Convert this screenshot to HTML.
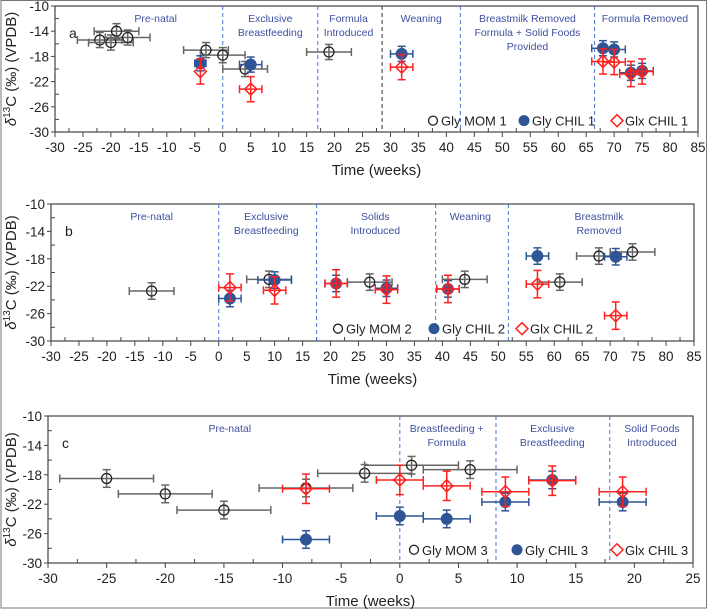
<!DOCTYPE html>
<html><head><meta charset="utf-8">
<style>
body{margin:0;background:#fff;}
svg{display:block;font-family:"Liberation Sans",sans-serif;}
</style></head>
<body>
<svg id="fig" width="708" height="609" viewBox="0 0 708 609">
<rect x="1" y="0.5" width="705.5" height="607.5" fill="none" stroke="#777" stroke-width="1"/>
</svg>
<script>
// ---------- Panel a data ----------
const aMomX=[-22,-20,-19,-17,-3,0,4,19];
const aMomY=[-15.4,-15.8,-14,-15,-17,-17.8,-20,-17.3];
const aMomXe=[4,4,4,4,4,4,4,4];
const aChX=[-4,5,32,68,70,73,75];
const aChY=[-19.1,-19.3,-17.6,-16.7,-16.9,-20.6,-20.3];
const aChXe=[1,2,2,2,2,2,2];
const aGlxX=[-4,5,32,68,70,73,75];
const aGlxY=[-20.4,-23.2,-19.7,-18.8,-18.9,-20.8,-20.4];
const aGlxXe=[0,2,2,2,2,2,2];
const aPhaseX=[0,17,28.5,42.5,66.5];
const aLabels=[["Pre-natal"],["Exclusive","Breastfeeding"],["Formula","Introduced"],["Weaning"],["Breastmilk Removed","Formula + Solid Foods","Provided"],["Formula Removed"]];
const aLabelX=[-12,8.5,22.5,35.5,54.5,75.5];
// ---------- Panel b data ----------
const bMomX=[-12,9,27,44,61,68,74];
const bMomY=[-22.7,-21,-21.4,-21,-21.4,-17.6,-17];
const bMomXe=[4,4,4,4,4,4,4];
const bChX=[2,10,21,30,41,57,71];
const bChY=[-23.8,-21.1,-21.6,-22.3,-22.4,-17.6,-17.7];
const bChXe=[2,3,2,2,2,2,2];
const bGlxX=[2,10,21,30,41,57,71];
const bGlxY=[-22.2,-22.6,-21.6,-22.5,-22.4,-21.7,-26.3];
const bGlxXe=[2,2,2,2,2,2,2];
const bPhaseX=[0,17.5,38.8,51.8];
const bLabels=[["Pre-natal"],["Exclusive","Breastfeeding"],["Solids","Introduced"],["Weaning"],["Breastmilk","Removed"]];
const bLabelX=[-12,8.5,28,45,68];
// ---------- Panel c data ----------
const cMomX=[-25,-20,-15,-8,-3,1,6];
const cMomY=[-18.5,-20.6,-22.8,-19.8,-17.8,-16.7,-17.3];
const cMomXe=[4,4,4,4,4,4,4];
const cChX=[-8,0,4,9,13,19];
const cChY=[-26.8,-23.6,-24,-21.7,-18.7,-21.7];
const cChXe=[2,2,2,2,2,2];
const cGlxX=[-8,0,4,9,13,19];
const cGlxY=[-19.9,-18.7,-19.5,-20.3,-18.8,-20.3];
const cGlxXe=[2,2,2,2,2,2];
const cPhaseX=[0,8.2,17.9];
const cLabels=[["Pre-natal"],["Breastfeeding +","Formula"],["Exclusive","Breastfeeding"],["Solid Foods","Introduced"]];
const cLabelX=[-14.5,4,13,21.5];
const yTicks=[-10,-14,-18,-22,-26,-30];

const NS="http://www.w3.org/2000/svg";
const svg=document.getElementById('fig');
function mk(tag,attrs,parent){const e=document.createElementNS(NS,tag);for(const k in attrs)e.setAttribute(k,attrs[k]);(parent||svg).appendChild(e);return e;}

function panel(p){
  const g=mk('g',{});
  
  
  const sx=v=>p.x0+(v-p.xmin)/(p.xmax-p.xmin)*(p.x1-p.x0);
  const sy=v=>p.y0+(-10-v)/20*(p.y1-p.y0);
  const box=mk('rect',{x:p.x0,y:p.y0,width:p.x1-p.x0,height:p.y1-p.y0,fill:'none',stroke:'#444','stroke-width':1.2},g);
  
  
  for(const t of yTicks){
    const y=sy(t);
    mk('line',{x1:p.x0-4,x2:p.x0,y1:y,y2:y,stroke:'#444'},g);
    const tx=mk('text',{x:p.x0-6,y:y+5,'text-anchor':'end','font-size':13.5,fill:'#222'},g);
    tx.textContent=t;
    
    
    if(t>-30){const ym=sy(t-2);mk('line',{x1:p.x0,x2:p.x0+4,y1:ym,y2:ym,stroke:'#444'},g);}
  }
  for(let v=p.xmin;v<=p.xmax;v+=5){
    const x=sx(v);
    mk('line',{x1:x,x2:x,y1:p.y1,y2:p.y1+5,stroke:'#444'},g);
    const tx=mk('text',{x:x,y:p.y1+20,'text-anchor':'middle','font-size':13.5,fill:'#222'},g);
    tx.textContent=v;
    
    
    if(v<p.xmax){const xm=sx(v+2.5);mk('line',{x1:xm,x2:xm,y1:p.y1-4,y2:p.y1,stroke:'#444'},g);}
  }
  const xt=mk('text',{x:(p.x0+p.x1)/2,y:p.y1+43,'text-anchor':'middle','font-size':15,fill:'#222'},g);
  xt.textContent='Time (weeks)';
  
  
  const yc=(p.y0+p.y1)/2;
  const yt=mk('text',{x:0,y:0,'text-anchor':'middle','font-size':15,fill:'#222',transform:`translate(16,${yc}) rotate(-90)`},g);
  yt.innerHTML='<tspan font-style="italic">δ</tspan><tspan font-size="10" dy="-6">13</tspan><tspan dy="6">C (‰) (VPDB)</tspan>';
  
  
  const pl=mk('text',{x:p.x0+14,y:p.y0+32,'font-size':14,fill:'#222'},g);
  pl.textContent=p.id;
  
  
  p.phase.forEach((v,i)=>{
    const l=mk('line',{x1:sx(v),x2:sx(v),y1:p.y0,y2:p.y1,stroke:(p.dark&&p.dark.includes(i))?'#333':'#4a72d0','stroke-dasharray':'4,3','stroke-width':1},g);
    
    
  });
  p.labels.forEach((lines,i)=>{
    const t=mk('text',{x:sx(p.labelX[i]),y:p.y0+16,'text-anchor':'middle','font-size':10.5,fill:'#3f4f9f'},g);
    lines.forEach((s,j)=>{const ts=mk('tspan',{x:sx(p.labelX[i]),dy:j?14:0},t);ts.textContent=s;});
    
    
  });
  function series(X,Y,Xe,color,errColor,kind,name){
    const sg=mk('g',{},g);
    
    
    const ye=kind==='glx'?2:1.2;
    X.forEach((xv,i)=>{
      const cx=sx(xv),cy=sy(Y[i]);
      const e=Xe[i];
      if(e>0){mk('line',{x1:sx(xv-e),x2:sx(xv+e),y1:cy,y2:cy,stroke:errColor,'stroke-width':1.5},sg);
        mk('line',{x1:sx(xv-e),x2:sx(xv-e),y1:cy-4,y2:cy+4,stroke:errColor,'stroke-width':1.5},sg);
        mk('line',{x1:sx(xv+e),x2:sx(xv+e),y1:cy-4,y2:cy+4,stroke:errColor,'stroke-width':1.5},sg);}
      mk('line',{x1:cx,x2:cx,y1:sy(Y[i]+ye),y2:sy(Y[i]-ye),stroke:errColor,'stroke-width':1.5},sg);
      mk('line',{x1:cx-4,x2:cx+4,y1:sy(Y[i]+ye),y2:sy(Y[i]+ye),stroke:errColor,'stroke-width':1.5},sg);
      mk('line',{x1:cx-4,x2:cx+4,y1:sy(Y[i]-ye),y2:sy(Y[i]-ye),stroke:errColor,'stroke-width':1.5},sg);
      let m;
      if(kind==='mom') m=mk('circle',{cx:cx,cy:cy,r:5,fill:'none',stroke:'#222','stroke-width':1.3},sg);
      else if(kind==='ch') m=mk('circle',{cx:cx,cy:cy,r:5.5,fill:'#2f5597',stroke:'#2f5597'},sg);
      else m=mk('path',{d:`M${cx},${cy-6}L${cx+6},${cy}L${cx},${cy+6}L${cx-6},${cy}Z`,fill:'none',stroke:'#ff2020','stroke-width':1.5},sg);
      
      
    });
  }
  series(p.mom[0],p.mom[1],p.mom[2],'#222','#666','mom','series-gly-mom');
  series(p.ch[0],p.ch[1],p.ch[2],'#2f5597','#2f5597','ch','series-gly-chil');
  series(p.glx[0],p.glx[1],p.glx[2],'#ff2020','#ff2020','glx','series-glx-chil');
  const lg=mk('g',{},g);
  
  
  const ly=sy(-28.2);
  p.leg.forEach((it,i)=>{
    const x=p.legX[i];
    if(i===0) mk('circle',{cx:x,cy:ly,r:4.5,fill:'none',stroke:'#222','stroke-width':1.3},lg);
    else if(i===1) mk('circle',{cx:x,cy:ly,r:5.5,fill:'#2f5597'},lg);
    else mk('path',{d:`M${x},${ly-6}L${x+6},${ly}L${x},${ly+6}L${x-6},${ly}Z`,fill:'none',stroke:'#ff2020','stroke-width':1.5},lg);
    const t=mk('text',{x:x+8,y:ly+5,'font-size':13,fill:'#222'},lg);
    t.textContent=it;
    
    
  });
}

panel({id:'a',x0:55,x1:698,y0:6,y1:132,xmin:-30,xmax:85,phase:aPhaseX,dark:[2],labels:aLabels,labelX:aLabelX,
  mom:[aMomX,aMomY,aMomXe],ch:[aChX,aChY,aChXe],glx:[aGlxX,aGlxY,aGlxXe],
  leg:['Gly MOM 1','Gly CHIL 1','Glx CHIL 1'],legX:[433,524,617]});
panel({id:'b',x0:51,x1:694,y0:204,y1:341,xmin:-30,xmax:85,phase:bPhaseX,labels:bLabels,labelX:bLabelX,
  mom:[bMomX,bMomY,bMomXe],ch:[bChX,bChY,bChXe],glx:[bGlxX,bGlxY,bGlxXe],
  leg:['Gly MOM 2','Gly CHIL 2','Glx CHIL 2'],legX:[338,434,522]});
panel({id:'c',x0:48,x1:693,y0:416,y1:563,xmin:-30,xmax:25,phase:cPhaseX,labels:cLabels,labelX:cLabelX,
  mom:[cMomX,cMomY,cMomXe],ch:[cChX,cChY,cChXe],glx:[cGlxX,cGlxY,cGlxXe],
  leg:['Gly MOM 3','Gly CHIL 3','Glx CHIL 3'],legX:[414,517,617]});
</script>
</body></html>
